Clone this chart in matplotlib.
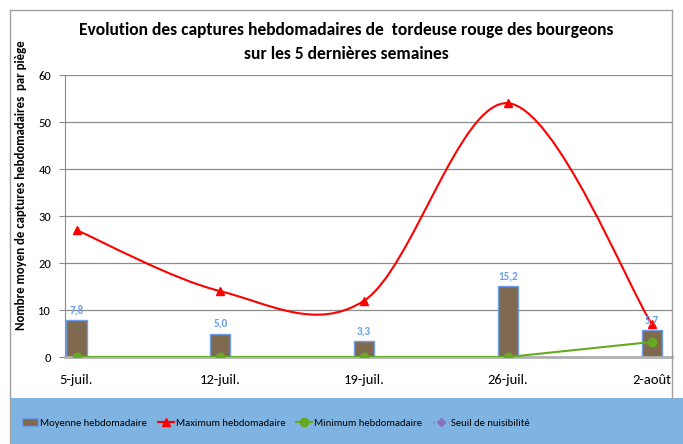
import matplotlib
matplotlib.use('Agg')
import matplotlib.pyplot as plt
from matplotlib.path import Path
from matplotlib.patches import PathPatch, Rectangle
from matplotlib.lines import Line2D

semaines = ['5-juil.', '12-juil.', '19-juil.', '26-juil.', '2-août']
moyenne = [7.8, 5.0, 3.3, 15.2, 5.7]
maximum = [27, 14, 12, 54, 7]
minimum = [0, 0, 0, 0, 3.2]

plt.rcParams['font.family'] = ['Carlito', 'DejaVu Sans']

brun = '#7f6a50'
bleu_bord = '#6d9eeb'
rouge = '#ff0000'
vert = '#66aa22'
violet = '#8e6fc0'
gris = '#8c8c8c'
W, H = 683, 444


def smooth_path(xs, ys):
    # courbe lissee facon Excel (bezier cubique, tension 1/6)
    pts = list(zip(xs, ys))
    verts = [pts[0]]
    codes = [Path.MOVETO]
    n = len(pts)
    for i in range(n - 1):
        p0 = pts[i - 1] if i > 0 else pts[i]
        p1 = pts[i]
        p2 = pts[i + 1]
        p3 = pts[i + 2] if i + 2 < n else pts[i + 1]
        c1 = (p1[0] + (p2[0] - p0[0]) / 6, p1[1] + (p2[1] - p0[1]) / 6)
        c2 = (p2[0] - (p3[0] - p1[0]) / 6, p2[1] - (p3[1] - p1[1]) / 6)
        verts += [c1, c2, p2]
        codes += [Path.CURVE4] * 3
    return Path(verts, codes)


fig = plt.figure(figsize=(W / 100, H / 100), dpi=100)
ax = fig.add_axes([65 / W, 1 - 357 / H, 607 / W, 282 / H])

x = list(range(len(semaines)))
ax.bar(x, moyenne, width=0.14, color=brun, edgecolor=bleu_bord, linewidth=1, zorder=2)
for xi, v in zip(x, moyenne):
    ax.text(xi, v + 1.0, '{:.1f}'.format(v).replace('.', ','), ha='center', va='bottom',
            fontsize=8, fontweight='bold', color=bleu_bord, zorder=5)

ax.add_patch(PathPatch(smooth_path(x, maximum), facecolor='none', edgecolor=rouge, lw=1.5, zorder=3))
ax.plot(x, maximum, ls='none', marker='^', color=rouge, ms=6, zorder=4)
ax.plot(x, minimum, color=vert, lw=1.5, marker='o', ms=6, zorder=4)

ax.set_xlim(-0.08, 4.14)
ax.set_ylim(0, 60)
ax.set_yticks(range(0, 61, 10))
ax.set_xticks(x)
ax.set_xticklabels(semaines, fontsize=10.5)
ax.tick_params(axis='y', labelsize=9, length=4, color=gris, pad=6)
ax.tick_params(axis='x', length=0, pad=12)
ax.yaxis.grid(True, color=gris, lw=0.9, zorder=0)
ax.set_axisbelow(True)
for s in ['top', 'right']:
    ax.spines[s].set_visible(False)
ax.spines['left'].set_color(gris)
ax.spines['bottom'].set_color('#b0b0b0')
ax.spines['bottom'].set_linewidth(2)

fig.text(21 / W, 1 - 185 / H, 'Nombre moyen de captures hebdomadaires  par piège', rotation=90,
         ha='center', va='center', fontsize=9.3, fontweight='bold')

fig.text(0.507, 1 - 30 / H, 'Evolution des captures hebdomadaires de  tordeuse rouge des bourgeons',
         ha='center', va='center', fontsize=12.6, fontweight='bold')
fig.text(0.507, 1 - 54 / H, 'sur les 5 dernières semaines', ha='center', va='center',
         fontsize=12.6, fontweight='bold')

# cadre et bande de legende
fig.patches.append(Rectangle((10 / W, 0), 1 - 10 / W, 46 / H, transform=fig.transFigure,
                             facecolor='#7fb3e1', edgecolor='none', zorder=0))
for xs, ys in [([10, 10], [10, 444]), ([10, 672], [10, 10]), ([672, 672], [10, 398])]:
    fig.add_artist(Line2D([v / W for v in xs], [1 - v / H for v in ys], color='#a0a0a0', lw=1))

handles = [
    Rectangle((0, 0), 1, 1, facecolor=brun, edgecolor=bleu_bord),
    Line2D([], [], color=rouge, marker='^', ms=6, lw=1.5),
    Line2D([], [], color=vert, marker='o', ms=6, lw=1.5),
    Line2D([], [], color=violet, marker='D', ms=4, lw=1, ls=':'),
]
labels = ['Moyenne hebdomadaire', 'Maximum hebdomadaire', 'Minimum hebdomadaire', 'Seuil de nuisibilité']
fig.legend(handles, labels, loc='center left', bbox_to_anchor=(22 / W, 1 - 423 / H), ncol=4, frameon=False,
           fontsize=7.7, borderpad=0, borderaxespad=0, handlelength=1.5, handleheight=0.7,
           handletextpad=0.2, columnspacing=1.0)

fig.savefig('out.png', dpi=100)
